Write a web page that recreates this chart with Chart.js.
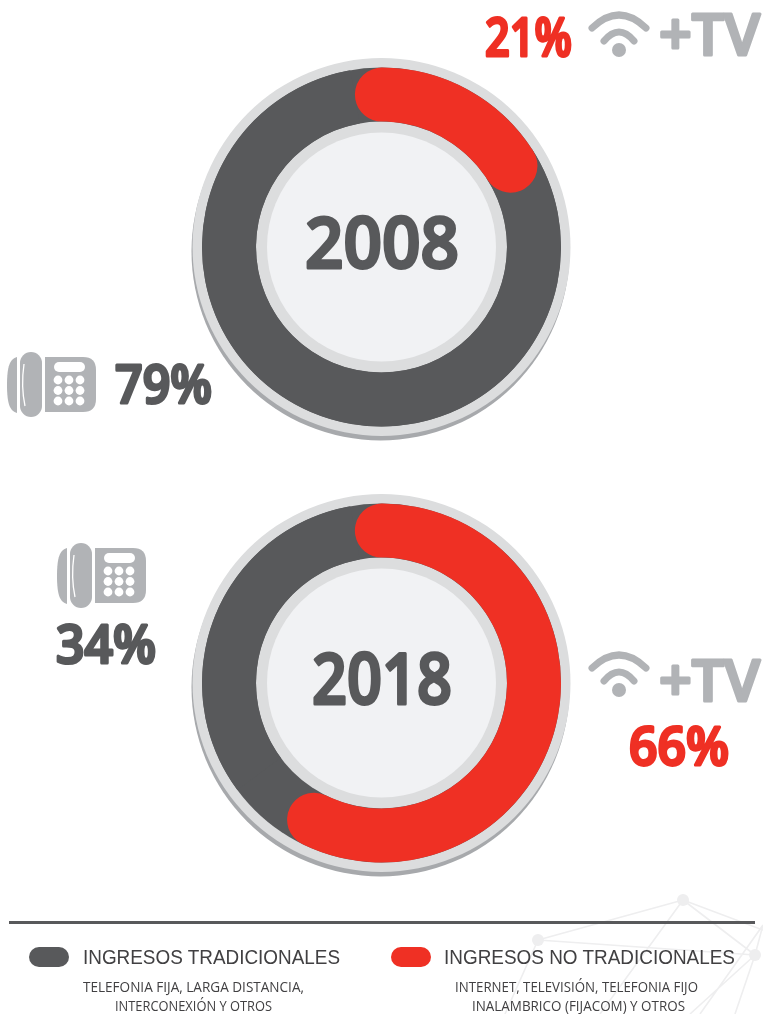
<!DOCTYPE html>
<html><head><meta charset="utf-8">
<script src="https://cdn.jsdelivr.net/npm/chart.js@4/dist/chart.umd.min.js"></script>
<style>
html,body{margin:0;padding:0;background:#fff;width:763px;height:1014px;overflow:hidden}
canvas{position:absolute}
svg{position:absolute;left:0;top:0}
</style></head><body>
<svg id="bg" width="763" height="1014" viewBox="0 0 763 1014">
  <g stroke="#eeeeef" stroke-width="1.6" fill="none">
    <path d="M683 900L538 940M683 900L763 930M683 900L600 1014M683 900L755 955M538 940L505 1014M538 940L755 955M755 955L763 925M755 955L690 1014M755 955L735 1014M763 925L700 1014"/>
  </g>
  <g fill="#eeeeef"><circle cx="683" cy="900" r="6"/><circle cx="538" cy="940" r="6"/><circle cx="755" cy="955" r="6"/></g>
</svg>
<canvas id="c2008" width="401" height="400" style="left:181px;top:47px"></canvas>
<canvas id="c2018" width="401" height="400" style="left:181px;top:483px"></canvas>
<svg id="fg" width="763" height="1014" viewBox="0 0 763 1014">
  <defs>
    <g id="phone">
      <path d="M17 357C10 359 7 366 7 385C7 404 10 411 17 413Z" fill="#b1b3b6"/>
      <rect x="20" y="352" width="22" height="65" rx="11" fill="#b1b3b6"/>
      <path d="M24 364C22 378 22 392 25 406" stroke="#fff" stroke-width="1.3" fill="none"/>
      <path d="M45 357H83Q96 357 96 370V399Q96 412 83 412H45Z" fill="#b1b3b6"/>
      <rect x="54" y="362" width="31" height="10" rx="5" fill="#fff"/>
      <g fill="#fff">
        <circle cx="58" cy="380" r="4.4"/><circle cx="69" cy="380" r="4.4"/><circle cx="80" cy="380" r="4.4"/>
        <circle cx="58" cy="390.5" r="4.4"/><circle cx="69" cy="390.5" r="4.4"/><circle cx="80" cy="390.5" r="4.4"/>
        <circle cx="58" cy="401" r="4.4"/><circle cx="69" cy="401" r="4.4"/><circle cx="80" cy="401" r="4.4"/>
      </g>
    </g>
    <g id="wifi">
      <path d="M592 28Q619 2 646 28" stroke="#b1b3b6" stroke-width="7" stroke-linecap="round" fill="none"/>
      <path d="M604 41Q619 23 634 41" stroke="#b1b3b6" stroke-width="7" stroke-linecap="round" fill="none"/>
      <circle cx="619" cy="50" r="7" fill="#b1b3b6"/>
    </g>
  </defs>
  <style>
    .big{font-family:"Open Sans",sans-serif;font-weight:600;stroke-linejoin:round;paint-order:stroke}
    .lg{font-family:"Liberation Sans",sans-serif;font-size:20px;fill:#414042}
    .sm{font-family:"Open Sans",sans-serif;font-size:14px;fill:#414042}
  </style>
  <text class="big" x="305" y="268" font-size="70" fill="#58595b" stroke="#58595b" stroke-width="3" textLength="154" lengthAdjust="spacingAndGlyphs">2008</text>
  <text class="big" x="312" y="704" font-size="70" fill="#58595b" stroke="#58595b" stroke-width="3" textLength="140" lengthAdjust="spacingAndGlyphs">2018</text>

  <text class="big" x="485" y="56" font-size="52" fill="#ef3024" stroke="#ef3024" stroke-width="3" textLength="87" lengthAdjust="spacingAndGlyphs">21%</text>
  <use href="#wifi"/>
  <text class="big" x="659" y="55" font-size="58" fill="#b1b3b6" stroke="#b1b3b6" stroke-width="3" textLength="101" lengthAdjust="spacingAndGlyphs">+TV</text>

  <use href="#phone"/>
  <text class="big" x="115" y="403" font-size="52" fill="#58595b" stroke="#58595b" stroke-width="3" textLength="97" lengthAdjust="spacingAndGlyphs">79%</text>

  <use href="#phone" x="50" y="191"/>
  <text class="big" x="56" y="663" font-size="52" fill="#58595b" stroke="#58595b" stroke-width="3" textLength="100" lengthAdjust="spacingAndGlyphs">34%</text>

  <use href="#wifi" y="640" x="0"/>
  <text class="big" x="659" y="701" font-size="58" fill="#b1b3b6" stroke="#b1b3b6" stroke-width="3" textLength="101" lengthAdjust="spacingAndGlyphs">+TV</text>
  <text class="big" x="629" y="765" font-size="52" fill="#ef3024" stroke="#ef3024" stroke-width="3" textLength="100" lengthAdjust="spacingAndGlyphs">66%</text>

  <rect x="9" y="921" width="746" height="3" fill="#58595b"/>
  <rect x="29" y="947" width="40" height="20" rx="10" fill="#58595b"/>
  <text class="lg" x="83" y="964" textLength="257" lengthAdjust="spacingAndGlyphs">INGRESOS TRADICIONALES</text>
  <rect x="391" y="947" width="40" height="20" rx="10" fill="#ef3024"/>
  <text class="lg" x="444" y="964" textLength="291" lengthAdjust="spacingAndGlyphs">INGRESOS NO TRADICIONALES</text>
  <text class="sm" x="83" y="992" textLength="221" lengthAdjust="spacingAndGlyphs">TELEFONIA FIJA, LARGA DISTANCIA,</text>
  <text class="sm" x="115" y="1011" textLength="157" lengthAdjust="spacingAndGlyphs">INTERCONEXIÓN Y OTROS</text>
  <text class="sm" x="455" y="992" textLength="243" lengthAdjust="spacingAndGlyphs">INTERNET, TELEVISIÓN, TELEFONIA FIJO</text>
  <text class="sm" x="472" y="1011" textLength="213" lengthAdjust="spacingAndGlyphs">INALAMBRICO (FIJACOM) Y OTROS</text>
</svg>
<script>
const categories = ["Ingresos tradicionales", "Ingresos no tradicionales"];
const values2008 = [79, 21];
const values2018 = [34, 66];
const colors = ["#58595b", "#ef3024"];
const OUTER = 179.5, INNER = 125.5;

const discs = {
  id: "discs",
  beforeDatasetsDraw(chart) {
    const a = chart.getDatasetMeta(0).data[0], c = chart.ctx;
    const fill = (x, y, r, col) => { c.beginPath(); c.arc(x, y, r, 0, Math.PI * 2); c.fillStyle = col; c.fill(); };
    fill(a.x - 1, a.y + 4.5, 189, "#a7a9ac");
    fill(a.x, a.y, 189, "#dcddde");
    fill(a.x, a.y, OUTER, colors[0]);
    fill(a.x, a.y, INNER, "#dcddde");
    fill(a.x, a.y, 114.5, "#f1f2f4");
  }
};

function ring(id, values, sweep, cx, cy) {
  const canvas = document.getElementById(id);
  const chart = new Chart(canvas, {
    type: "doughnut",
    data: { labels: categories, datasets: [{
      data: values,
      backgroundColor: colors,
      borderWidth: 0,
      borderRadius: [0, 27]
    }]},
    options: {
      responsive: false, animation: false,
      radius: OUTER, cutout: (INNER / OUTER * 100) + "%",
      circumference: sweep,
      rotation: -10 - values[0] / 100 * sweep,
      layout: { padding: 0 },
      plugins: { legend: { display: false }, tooltip: { enabled: false } }
    },
    plugins: [discs]
  });
  const a = chart.getDatasetMeta(0).data[0];
  canvas.style.left = (cx - a.x) + "px";
  canvas.style.top = (cy - a.y) + "px";
}
ring("c2008", values2008, 371, 381.5, 247);
ring("c2018", values2018, 343, 381.5, 683);
</script>
</body></html>
